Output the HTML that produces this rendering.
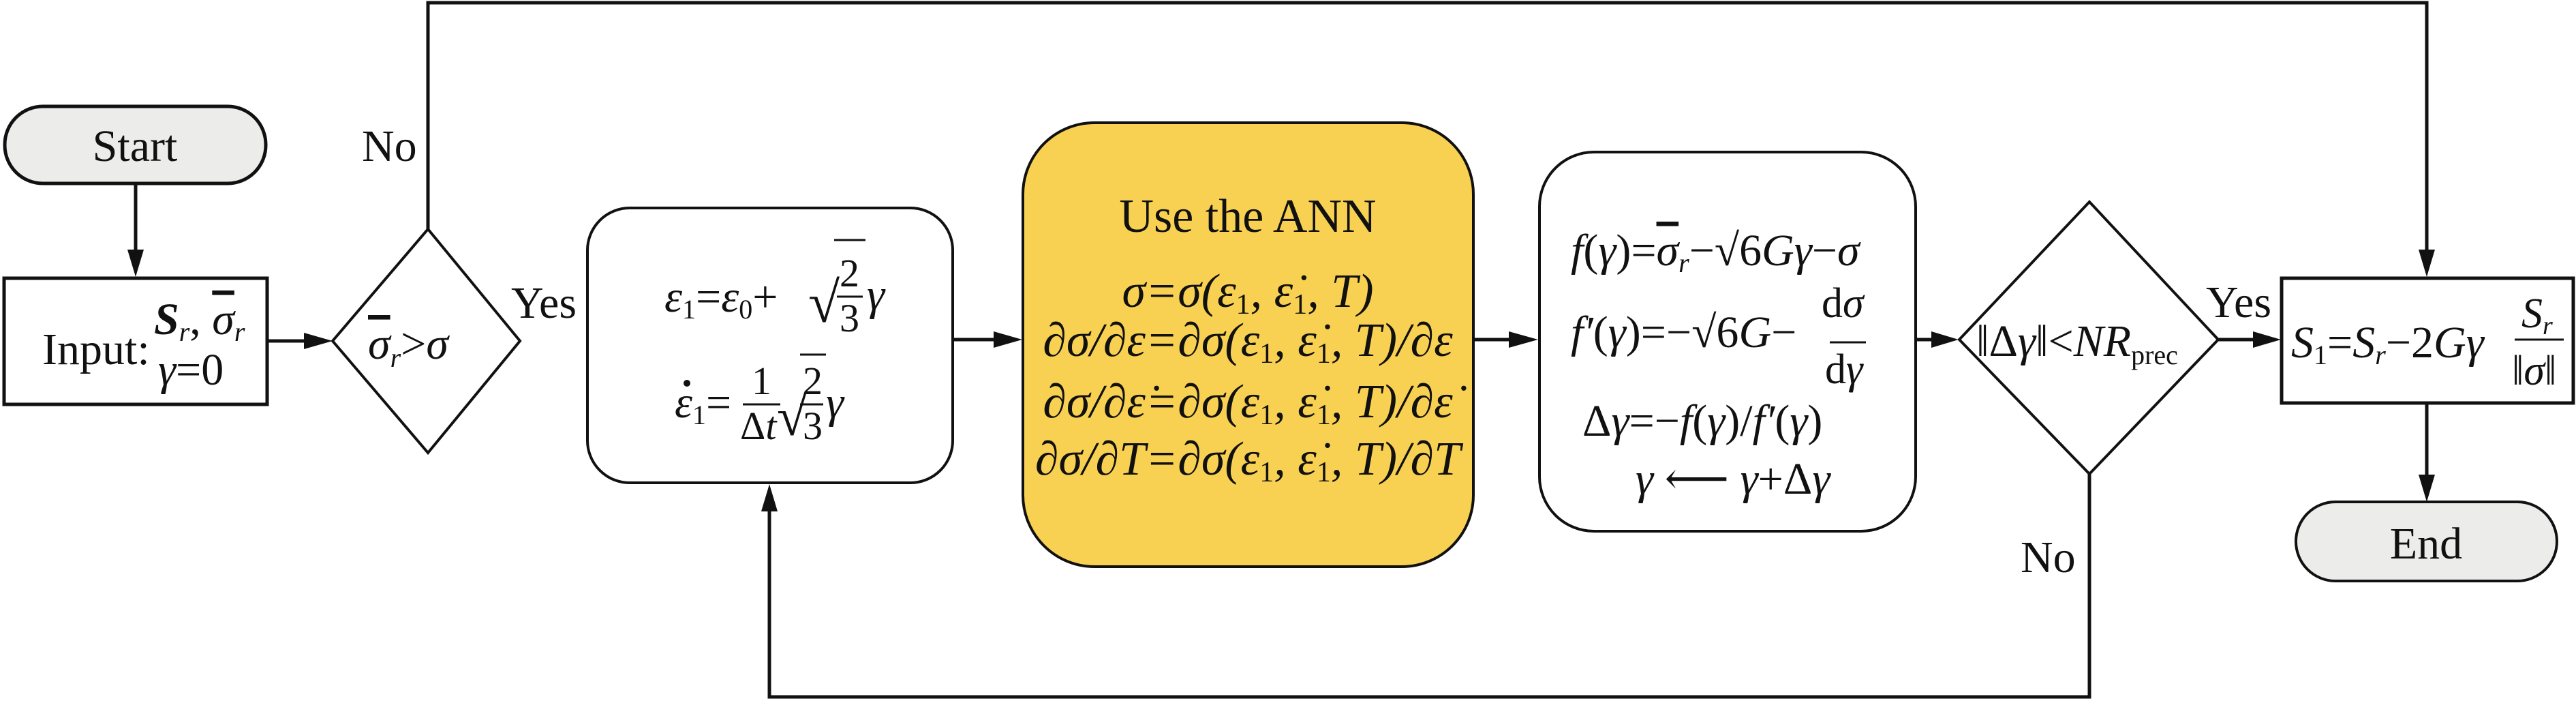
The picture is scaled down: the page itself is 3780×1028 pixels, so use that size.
<!DOCTYPE html>
<html><head><meta charset="utf-8"><style>
html,body{margin:0;padding:0;background:#fff;}
svg{display:block;}
.i{font-style:italic;}
.o{text-decoration:overline;}
</style></head><body>
<svg width="3780" height="1028" viewBox="0 0 3780 1028" xmlns="http://www.w3.org/2000/svg" font-family="'Liberation Serif', 'DejaVu Serif', serif">
<g stroke="#111" stroke-width="5" fill="none">
<rect x="7" y="156" width="383" height="113" rx="56" fill="#ececea"/>
<rect x="6" y="408" width="386" height="185" fill="#fff"/>
<polygon points="488,500 628,336 763,500 628,664" fill="#fff" stroke-width="4"/>
<rect x="862" y="305" width="536" height="403" rx="62" fill="#fff" stroke-width="4"/>
<rect x="1501" y="180" width="661" height="651" rx="105" fill="#f9d152" stroke-width="4"/>
<rect x="2259" y="223" width="552" height="556" rx="80" fill="#fff" stroke-width="4"/>
<polygon points="2875,498 3066,296 3255,498 3066,695" fill="#fff" stroke-width="4"/>
<rect x="3348" y="408" width="428" height="183" fill="#fff"/>
<rect x="3369" y="736" width="383" height="116" rx="58" fill="#ececea" stroke-width="4"/>
<line x1="199" y1="269" x2="199" y2="370"/>
<line x1="392" y1="500" x2="450" y2="500"/>
<polyline points="628,336 628,4 3561,4 3561,370"/>
<line x1="1398" y1="498" x2="1462" y2="498"/>
<line x1="2162" y1="498" x2="2218" y2="498"/>
<line x1="2811" y1="498" x2="2838" y2="498"/>
<line x1="3255" y1="498" x2="3310" y2="498"/>
<line x1="3561" y1="591" x2="3561" y2="700"/>
<polyline points="3066,695 3066,1022 1129,1022 1129,745"/>
</g>
<g fill="#111">
<polygon points="187,366 211,366 199,406"/>
<polygon points="446,488 446,512 488,500"/>
<polygon points="3549,366 3573,366 3561,406"/>
<polygon points="1458,486 1458,510 1500,498"/>
<polygon points="2214,486 2214,510 2257,498"/>
<polygon points="2834,486 2834,510 2874,498"/>
<polygon points="3306,486 3306,510 3347,498"/>
<polygon points="3549,696 3573,696 3561,736"/>
<polygon points="1117,750 1141,750 1129,710"/>
</g>
<g font-size="66" fill="#111" stroke="none">
<text x="198" y="236" text-anchor="middle">Start</text>
<text x="3560" y="819" text-anchor="middle">End</text>
<text x="531" y="236">No</text>
<text x="750" y="466">Yes</text>
<text x="3237" y="465">Yes</text>
<text x="2965" y="839">No</text>
<text x="62" y="534">Input:</text>
<text x="226" y="490"><tspan class="i" font-weight="bold">S</tspan><tspan class="i" font-size="40" dy="10">r</tspan><tspan dy="-10">, </tspan><tspan class="i o">σ</tspan><tspan class="i" font-size="40" dy="10">r</tspan></text>
<text x="232" y="564"><tspan class="i">γ</tspan>=0</text>
<text x="540" y="526"><tspan class="i o">σ</tspan><tspan class="i" font-size="40" dy="12">r</tspan><tspan dy="-12">&gt;</tspan><tspan class="i">σ</tspan></text>
<!-- box2 -->
<text x="975" y="457"><tspan class="i">ε</tspan><tspan font-size="40" dy="10">1</tspan><tspan dy="-10">=</tspan><tspan class="i">ε</tspan><tspan font-size="40" dy="10">0</tspan><tspan dy="-10">+</tspan></text>
<text x="1186" y="472" font-size="84">√</text>
<line x1="1224" y1="352" x2="1270" y2="352" stroke="#111" stroke-width="3"/>
<text x="1232" y="420" font-size="58">2</text><line x1="1228" y1="435" x2="1266" y2="435" stroke="#111" stroke-width="3"/><text x="1232" y="486" font-size="58">3</text>
<text x="1272" y="454" class="i">γ</text>
<text x="990" y="612"><tspan class="i">ε</tspan><tspan font-size="40" dy="10">1</tspan><tspan dy="-10">=</tspan></text>
<circle cx="1008" cy="562" r="5"/>
<text x="1103" y="578" font-size="58">1</text><line x1="1090" y1="593" x2="1145" y2="593" stroke="#111" stroke-width="3"/><text x="1086" y="644" font-size="58">Δ<tspan class="i">t</tspan></text>
<text x="1140" y="638" font-size="80">√</text>
<line x1="1174" y1="520" x2="1212" y2="520" stroke="#111" stroke-width="3"/>
<text x="1178" y="578" font-size="58">2</text><line x1="1174" y1="593" x2="1208" y2="593" stroke="#111" stroke-width="3"/><text x="1178" y="644" font-size="58">3</text>
<text x="1212" y="612" class="i">γ</text>
<!-- ANN -->
<g font-size="70">
<text x="1831" y="340" text-anchor="middle">Use the ANN</text>
<text x="1831" y="450" text-anchor="middle" class="i">σ=σ(ε<tspan font-size="42" font-style="normal" dy="10">1</tspan><tspan dy="-10">, ε̇</tspan><tspan font-size="42" font-style="normal" dy="10">1</tspan><tspan dy="-10">, T)</tspan></text>
<text x="1831" y="522" text-anchor="middle" class="i">∂σ/∂ε=∂σ(ε<tspan font-size="42" font-style="normal" dy="10">1</tspan><tspan dy="-10">, ε̇</tspan><tspan font-size="42" font-style="normal" dy="10">1</tspan><tspan dy="-10">, T)/∂ε</tspan></text>
<text x="1831" y="612" text-anchor="middle" class="i">∂σ/∂ε̇=∂σ(ε<tspan font-size="42" font-style="normal" dy="10">1</tspan><tspan dy="-10">, ε̇</tspan><tspan font-size="42" font-style="normal" dy="10">1</tspan><tspan dy="-10">, T)/∂ε̇</tspan></text>
<text x="1831" y="696" text-anchor="middle" class="i">∂σ/∂T=∂σ(ε<tspan font-size="42" font-style="normal" dy="10">1</tspan><tspan dy="-10">, ε̇</tspan><tspan font-size="42" font-style="normal" dy="10">1</tspan><tspan dy="-10">, T)/∂T</tspan></text>
</g>
<!-- box3 -->
<text x="2305" y="389"><tspan class="i">f</tspan>(<tspan class="i">γ</tspan>)=<tspan class="i o">σ</tspan><tspan class="i" font-size="40" dy="10">r</tspan><tspan dy="-10">−√6</tspan><tspan class="i">Gγ</tspan>−<tspan class="i">σ</tspan></text>
<text x="2305" y="509"><tspan class="i">f′</tspan>(<tspan class="i">γ</tspan>)=−√6<tspan class="i">G</tspan>−</text>
<text x="2673" y="465" font-size="62">d<tspan class="i">σ</tspan></text>
<line x1="2685" y1="502" x2="2738" y2="502" stroke="#111" stroke-width="3"/>
<text x="2678" y="562" font-size="62">d<tspan class="i">γ</tspan></text>
<text x="2322" y="639">Δ<tspan class="i">γ</tspan>=−<tspan class="i">f</tspan>(<tspan class="i">γ</tspan>)/<tspan class="i">f′</tspan>(<tspan class="i">γ</tspan>)</text>
<text x="2400" y="724"><tspan class="i">γ</tspan> ⟵ <tspan class="i">γ</tspan>+Δ<tspan class="i">γ</tspan></text>
<!-- diamond2 -->
<text x="2900" y="522">‖Δ<tspan class="i">γ</tspan>‖&lt;<tspan class="i">NR</tspan><tspan font-size="40" dy="12">prec</tspan></text>
<!-- box4 -->
<text x="3362" y="524"><tspan class="i">S</tspan><tspan font-size="40" dy="10">1</tspan><tspan dy="-10">=</tspan><tspan class="i">S</tspan><tspan class="i" font-size="40" dy="10">r</tspan><tspan dy="-10">−2</tspan><tspan class="i">Gγ</tspan></text>
<text x="3700" y="480" class="i" font-size="62">S<tspan font-size="38" dy="10">r</tspan></text>
<line x1="3690" y1="498" x2="3762" y2="498" stroke="#111" stroke-width="3"/>
<text x="3686" y="564" font-size="62">‖<tspan class="i">σ</tspan>‖</text>
</g>
</svg>
</body></html>
